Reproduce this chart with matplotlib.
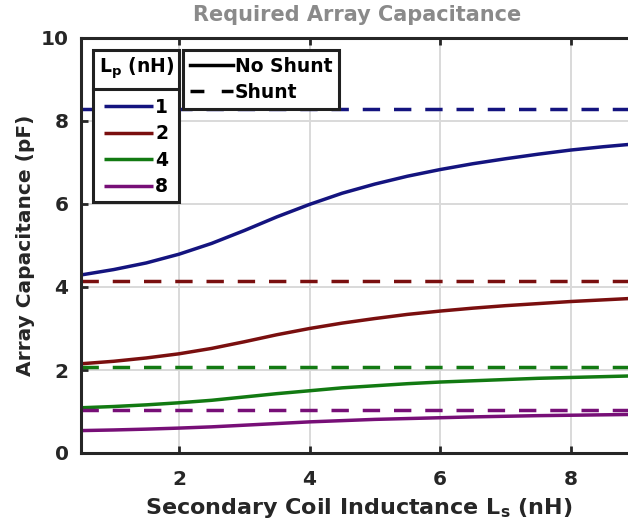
import matplotlib
matplotlib.use('Agg')
import matplotlib.pyplot as plt
from matplotlib.lines import Line2D

plt.rcParams['font.family'] = 'DejaVu Sans'
plt.rcParams['font.weight'] = 'bold'
plt.rcParams['axes.labelweight'] = 'bold'
plt.rcParams['mathtext.fontset'] = 'custom'
plt.rcParams['mathtext.rm'] = 'DejaVu Sans:bold'
plt.rcParams['mathtext.bf'] = 'DejaVu Sans:bold'
plt.rcParams['mathtext.it'] = 'DejaVu Sans:bold'

# secondary coil inductance Ls (nH)
ls = [0.5, 1, 1.5, 2, 2.5, 3, 3.5, 4, 4.5, 5, 5.5, 6, 6.5, 7, 7.5, 8, 8.5, 9]

# array capacitance (pF) without shunt, one series per Lp
cap_lp1 = [4.29, 4.42, 4.58, 4.79, 5.05, 5.36, 5.69, 5.99, 6.26, 6.48, 6.67, 6.83, 6.97, 7.09, 7.2, 7.3, 7.38, 7.45]
cap_lp2 = [2.15, 2.21, 2.29, 2.39, 2.52, 2.68, 2.85, 3.0, 3.13, 3.24, 3.34, 3.42, 3.49, 3.55, 3.6, 3.65, 3.69, 3.73]
cap_lp4 = [1.09, 1.12, 1.16, 1.21, 1.27, 1.35, 1.43, 1.5, 1.57, 1.62, 1.67, 1.71, 1.74, 1.77, 1.8, 1.82, 1.84, 1.86]
cap_lp8 = [0.54, 0.555, 0.575, 0.6, 0.63, 0.67, 0.71, 0.75, 0.78, 0.81, 0.83, 0.85, 0.87, 0.885, 0.9, 0.91, 0.92, 0.93]

# with shunt the capacitance does not depend on Ls
shunt_cap = [8.3, 4.15, 2.07, 1.04]

lp_labels = ['1', '2', '4', '8']
colors = ['#14147f', '#7a0f0f', '#127a12', '#770f77']

fig = plt.figure(figsize=(6.28, 5.29), dpi=100)
W, H = 628, 529
# axes box in pixels: left 81, right 636 (just past the image edge), top 38, bottom 453
ax = fig.add_axes([81 / W, 1 - 453 / H, 555 / W, 415 / H])

LW = 2.5
dash = (0, (5, 4))
handles = []
for cap, sc, c, lab in zip([cap_lp1, cap_lp2, cap_lp4, cap_lp8], shunt_cap, colors, lp_labels):
    h, = ax.plot(ls, cap, color=c, lw=LW, solid_capstyle='butt', label=lab)
    ax.axhline(sc, color=c, lw=LW, linestyle=dash)
    handles.append(h)

ax.set_xlim(0.5, 9)
ax.set_ylim(0, 10)
ax.set_xticks([2, 4, 6, 8])
ax.set_yticks([0, 2, 4, 6, 8, 10])
ax.grid(True, color='#d9d9d9', lw=1.4)
ax.set_axisbelow(True)
for s in ax.spines.values():
    s.set_linewidth(2.2)
    s.set_color('#262626')
ax.tick_params(direction='in', length=5, width=2, top=True, right=True,
               labelsize=14.5, colors='#262626')
ax.tick_params(axis='x', pad=12)
ax.tick_params(axis='y', pad=9)

ax.set_xlabel(r'Secondary Coil Inductance $\mathbf{L_s}$ (nH)', fontsize=16, color='#262626', labelpad=5)
ax.set_ylabel('Array Capacitance (pF)', fontsize=14.5, color='#262626', labelpad=4)
fig.text(357 / W, 1 - 15 / H, 'Required Array Capacitance', ha='center', va='center',
         fontsize=15, color='#8a8a8a', fontweight='bold')

leg_kw = dict(loc='upper left', frameon=True, fancybox=False, framealpha=1,
              edgecolor='#202020', borderaxespad=0, handletextpad=0.1,
              fontsize=13.5)

leg1 = ax.legend(handles=handles, bbox_to_anchor=(12 / 555, 1 - 12 / 415),
                 title=r'$\mathbf{L_p}$ (nH)', title_fontsize=13.5,
                 handlelength=2.6, labelspacing=0.4, borderpad=0.3, **leg_kw)
leg1.get_frame().set_linewidth(2.2)
leg1._legend_box.sep = 12
ax.add_artist(leg1)

style_handles = [Line2D([], [], color='black', lw=LW),
                 Line2D([], [], color='black', lw=LW, linestyle=(0, (4, 5)))]
leg2 = ax.legend(handles=style_handles, labels=['No Shunt', 'Shunt'],
                 bbox_to_anchor=(102 / 555, 1 - 12 / 415),
                 handlelength=2.3, labelspacing=0.4, borderpad=0.35, **leg_kw)
leg2.get_frame().set_linewidth(2.2)

# separator under the Lp legend title
fig.canvas.draw()
r = fig.canvas.get_renderer()
fb = leg1.get_frame().get_window_extent(r)
tb = leg1.get_title().get_window_extent(r)
eb = leg1.get_texts()[0].get_window_extent(r)
ysep = (tb.y0 + eb.y1) / 2
fig.add_artist(Line2D([fb.x0 / W, fb.x1 / W], [ysep / H, ysep / H],
                      transform=fig.transFigure, color='#202020', lw=2.2))

fig.savefig('out.png', dpi=100)
